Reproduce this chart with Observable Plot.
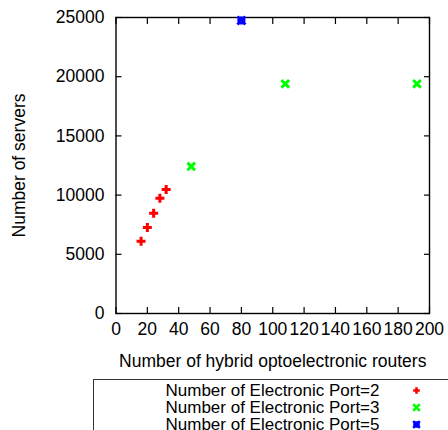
<!DOCTYPE html>
<html>
<head>
<meta charset="utf-8">
<script src="https://cdn.jsdelivr.net/npm/d3@7"></script>
<script src="https://cdn.jsdelivr.net/npm/@observablehq/plot@0.6"></script>
<style>
  body { margin: 0; background: #fff; font-family: "Liberation Sans", Arial, sans-serif; }
  #wrap { position: relative; width: 448px; height: 430px; overflow: hidden; background: #fff; }
  #legend { position: absolute; left: 93px; top: 379px; width: 400px; height: 80px;
            border-left: 1.5px solid #333; border-top: 1.5px solid #333; }
</style>
</head>
<body>
<div id="wrap"><div id="chart"></div><div id="legend"></div></div>
<script>
const seriesNames = ["Number of Electronic Port=2", "Number of Electronic Port=3", "Number of Electronic Port=5"];
const seriesColors = ["#ff0000", "#00ff00", "#0000ff"];

const port2Routers = [16, 20, 24, 28, 32];
const port2Servers = [6100, 7260, 8470, 9740, 10470];
const port3Routers = [48, 108, 192];
const port3Servers = [12420, 19400, 19400];
const port5Routers = [80];
const port5Servers = [24750];

const xTicks = [0, 20, 40, 60, 80, 100, 120, 140, 160, 180, 200];
const yTicks = [0, 5000, 10000, 15000, 20000, 25000];

// gnuplot-like point shapes (size = pi * r^2)
const plusSym = {draw(c, size) { const r = Math.sqrt(size / Math.PI); c.moveTo(-r, 0); c.lineTo(r, 0); c.moveTo(0, -r); c.lineTo(0, r); }};
const timesSym = {draw(c, size) { const r = Math.sqrt(size / Math.PI); c.moveTo(-r, -r); c.lineTo(r, r); c.moveTo(-r, r); c.lineTo(r, -r); }};
const starSym = {draw(c, size) { const r = Math.sqrt(size / Math.PI); c.moveTo(-r, 0); c.lineTo(r, 0); c.moveTo(0, -r); c.lineTo(0, r); c.moveTo(-r, -r); c.lineTo(r, r); c.moveTo(-r, r); c.lineTo(r, -r); }};
const seriesSymbols = [plusSym, timesSym, starSym];

const rows = [];
port2Routers.forEach((r, i) => rows.push({series: seriesNames[0], x: r, y: port2Servers[i]}));
port3Routers.forEach((r, i) => rows.push({series: seriesNames[1], x: r, y: port3Servers[i]}));
port5Routers.forEach((r, i) => rows.push({series: seriesNames[2], x: r, y: port5Servers[i]}));

const colorScale = {domain: seriesNames, range: seriesColors};
const symbolScale = {domain: seriesNames, range: seriesSymbols};
const sizes = {[seriesNames[0]]: 4.5, [seriesNames[1]]: 3.8, [seriesNames[2]]: 4};

const font = {fontFamily: "Liberation Sans, Arial, sans-serif", fontSize: "17.5px", color: "#000", background: "#fff"};

const chart = Plot.plot({
  width: 448,
  height: 372,
  marginLeft: 115.5,
  marginRight: 19,
  marginTop: 17,
  marginBottom: 59,
  style: font,
  x: {domain: [0, 200], ticks: xTicks, label: "Number of hybrid optoelectronic routers"},
  y: {domain: [0, 25000], ticks: yTicks, label: "Number of servers", tickFormat: d3.format("d")},
  r: {type: "identity"},
  color: colorScale,
  symbol: symbolScale,
  marks: [
    Plot.axisX({anchor: "bottom", ticks: xTicks, tickSize: -6, tickPadding: 15.5, stroke: "#000", strokeWidth: 1.2,
      label: "Number of hybrid optoelectronic routers", labelAnchor: "center", labelOffset: 53, labelArrow: "none"}),
    Plot.axisX({anchor: "top", ticks: xTicks, tickSize: -6, tickFormat: () => "", label: null, stroke: "#000", strokeWidth: 1.2}),
    Plot.axisY({anchor: "left", ticks: yTicks, tickSize: -6, tickPadding: 17.5, tickFormat: d3.format("d"), stroke: "#000", strokeWidth: 1.2,
      label: "Number of servers", labelAnchor: "center", labelOffset: 103, labelArrow: "none"}),
    Plot.axisY({anchor: "right", ticks: yTicks, tickSize: -6, tickFormat: () => "", label: null, stroke: "#000", strokeWidth: 1.2}),
    Plot.frame({stroke: "#000", strokeWidth: 1.4}),
    Plot.dot(rows, {x: "x", y: "y", stroke: "series", symbol: "series", fill: "none", r: d => sizes[d.series], strokeWidth: 3})
  ]
});
document.getElementById("chart").appendChild(chart);

const legendRows = seriesNames.map(s => ({series: s}));
const legend = Plot.plot({
  width: 400,
  height: 80,
  margin: 0,
  style: font,
  x: {type: "point", domain: ["label", "mark"], range: [285, 322], padding: 0, axis: null},
  y: {type: "point", domain: seriesNames, range: [9, 44], padding: 0, axis: null},
  color: colorScale,
  symbol: symbolScale,
  marks: [
    Plot.text(legendRows, {x: () => "label", y: "series", text: "series", textAnchor: "end", fill: "#000", fontSize: 17}),
    Plot.dot(legendRows, {x: () => "mark", y: "series", stroke: "series", symbol: "series", fill: "none", r: 3.3, strokeWidth: 2.6})
  ]
});
document.getElementById("legend").appendChild(legend);
</script>
</body>
</html>
